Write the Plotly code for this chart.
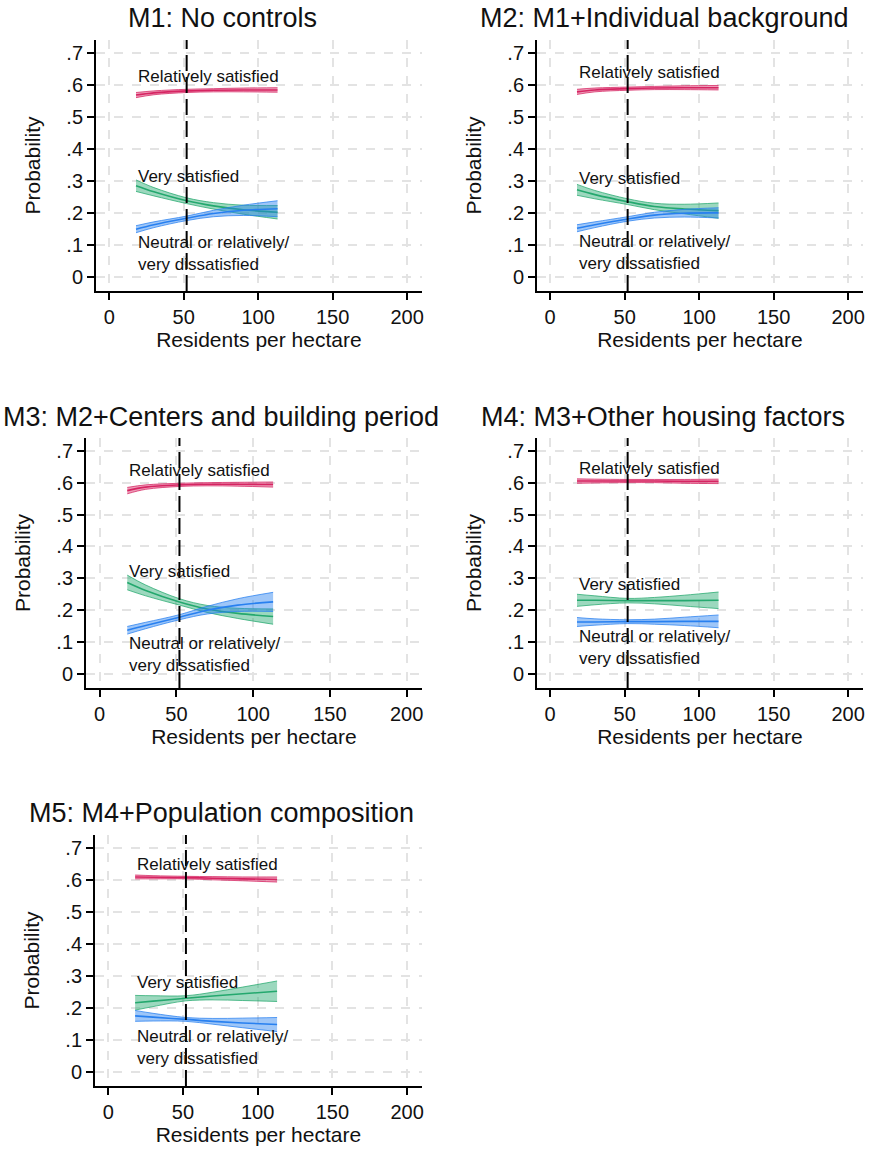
import plotly.graph_objects as go

# ---------------- data ----------------
X = [18, 30, 52, 70, 90, 113]          # residents per hectare
REF_X = 52                              # dashed reference line (mean density)

TITLES = ["M1: No controls", "M2: M1+Individual background",
          "M3: M2+Centers and building period", "M4: M3+Other housing factors",
          "M5: M4+Population composition"]

# Relatively satisfied
m1_rel = [0.568, 0.575, 0.581, 0.583, 0.584, 0.584]
m1_rel_hw = [0.008, 0.006, 0.005, 0.005, 0.006, 0.007]
m2_rel = [0.578, 0.584, 0.588, 0.590, 0.591, 0.591]
m2_rel_hw = [0.008, 0.006, 0.005, 0.005, 0.006, 0.007]
m3_rel = [0.575, 0.586, 0.593, 0.595, 0.595, 0.594]
m3_rel_hw = [0.010, 0.007, 0.005, 0.005, 0.006, 0.008]
m4_rel = [0.605, 0.605, 0.605, 0.605, 0.604, 0.604]
m4_rel_hw = [0.007, 0.006, 0.005, 0.005, 0.006, 0.007]
m5_rel = [0.609, 0.608, 0.607, 0.605, 0.603, 0.601]
m5_rel_hw = [0.006, 0.005, 0.004, 0.005, 0.006, 0.008]

# Very satisfied
m1_vs = [0.285, 0.266, 0.238, 0.222, 0.210, 0.202]
m1_vs_hw = [0.018, 0.013, 0.009, 0.010, 0.014, 0.021]
m2_vs = [0.272, 0.257, 0.235, 0.220, 0.212, 0.207]
m2_vs_hw = [0.017, 0.013, 0.009, 0.010, 0.015, 0.024]
m3_vs = [0.287, 0.262, 0.226, 0.204, 0.190, 0.180]
m3_vs_hw = [0.023, 0.017, 0.010, 0.011, 0.016, 0.024]
m4_vs = [0.231, 0.231, 0.230, 0.230, 0.230, 0.231]
m4_vs_hw = [0.019, 0.014, 0.007, 0.010, 0.017, 0.026]
m5_vs = [0.216, 0.221, 0.230, 0.237, 0.244, 0.252]
m5_vs_hw = [0.023, 0.017, 0.008, 0.012, 0.021, 0.032]

# Neutral or relatively/very dissatisfied
m1_neu = [0.149, 0.163, 0.183, 0.198, 0.208, 0.213]
m1_neu_hw = [0.011, 0.009, 0.007, 0.010, 0.016, 0.025]
m2_neu = [0.152, 0.163, 0.181, 0.193, 0.199, 0.200]
m2_neu_hw = [0.011, 0.009, 0.007, 0.009, 0.012, 0.016]
m3_neu = [0.137, 0.152, 0.178, 0.200, 0.216, 0.226]
m3_neu_hw = [0.012, 0.010, 0.008, 0.012, 0.020, 0.030]
m4_neu = [0.163, 0.163, 0.164, 0.164, 0.165, 0.165]
m4_neu_hw = [0.014, 0.010, 0.006, 0.008, 0.013, 0.020]
m5_neu = [0.175, 0.171, 0.164, 0.158, 0.153, 0.148]
m5_neu_hw = [0.017, 0.012, 0.006, 0.009, 0.015, 0.022]

# label y positions per model
LABEL_REL_Y = [0.626, 0.639, 0.638, 0.643, 0.648]
LABEL_VS_Y = [0.313, 0.308, 0.322, 0.280, 0.279]
LABEL_NEU_Y = [0.074, 0.077, 0.062, 0.082, 0.075]
LABEL_X = 18

X_TICKS = [0, 50, 100, 150, 200]
Y_TICKS = [0, 0.1, 0.2, 0.3, 0.4, 0.5, 0.6, 0.7]
Y_TICKTEXT = ["0", ".1", ".2", ".3", ".4", ".5", ".6", ".7"]

# ---------------- styling ----------------
FONT = "Liberation Sans, Arial, sans-serif"
COLORS = {
    "rel": (214, 36, 98),
    "vs": (36, 168, 110),
    "neu": (40, 128, 240),
}
W, H = 874, 1149
PANELS = [  # (x0,x1,y0,y1) in pixels
    (96, 423, 40, 291),
    (538, 865, 40, 291),
    (86, 423, 438, 688),
    (538, 865, 438, 688),
    (95, 423, 835, 1086),
]
TITLE_POS = [(223, 18), (666, 18), (222, 417), (665, 417), (222, 813)]

series = [
    [(m1_rel, m1_rel_hw, "rel"), (m1_vs, m1_vs_hw, "vs"), (m1_neu, m1_neu_hw, "neu")],
    [(m2_rel, m2_rel_hw, "rel"), (m2_vs, m2_vs_hw, "vs"), (m2_neu, m2_neu_hw, "neu")],
    [(m3_rel, m3_rel_hw, "rel"), (m3_vs, m3_vs_hw, "vs"), (m3_neu, m3_neu_hw, "neu")],
    [(m4_rel, m4_rel_hw, "rel"), (m4_vs, m4_vs_hw, "vs"), (m4_neu, m4_neu_hw, "neu")],
    [(m5_rel, m5_rel_hw, "rel"), (m5_vs, m5_vs_hw, "vs"), (m5_neu, m5_neu_hw, "neu")],
]

fig = go.Figure()
annotations = []
shapes = []
layout = dict(
    width=W, height=H, autosize=False,
    margin=dict(l=0, r=0, t=0, b=0),
    paper_bgcolor="white", plot_bgcolor="white",
    showlegend=False,
    font=dict(family=FONT, color="#111111"),
)

for i, (px, title) in enumerate(zip(PANELS, TITLES)):
    k = i + 1
    xa = "x" if k == 1 else f"x{k}"
    ya = "y" if k == 1 else f"y{k}"
    x0, x1, y0, y1 = px
    common = dict(
        showline=True, linecolor="black", linewidth=1.5,
        ticks="outside", ticklen=7, tickwidth=1.5, tickcolor="black",
        showgrid=True, gridcolor="#e3e3e3", gridwidth=1.5, griddash="dash",
        zeroline=False, tickfont=dict(size=20, family=FONT, color="#111111"),
    )
    layout["xaxis" if k == 1 else f"xaxis{k}"] = dict(
        common, domain=[x0 / W, x1 / W], anchor=ya, range=[-9, 210],
        tickvals=X_TICKS, ticktext=[str(v) for v in X_TICKS],
        title=dict(text="Residents per hectare", font=dict(size=21, family=FONT, color="#111111"), standoff=6),
    )
    layout["yaxis" if k == 1 else f"yaxis{k}"] = dict(
        common, domain=[1 - y1 / H, 1 - y0 / H], anchor=xa, range=[-0.044, 0.74],
        tickvals=Y_TICKS, ticktext=Y_TICKTEXT,
        title=dict(text="Probability", font=dict(size=21, family=FONT, color="#111111"), standoff=20),
    )

    for mean, hw, key in series[i]:
        r, g, b = COLORS[key]
        lo = [m - h for m, h in zip(mean, hw)]
        hi = [m + h for m, h in zip(mean, hw)]
        edge = f"rgba({r},{g},{b},0.75)"
        fig.add_trace(go.Scatter(x=X, y=lo, mode="lines", line=dict(color=edge, width=1, shape="spline"),
                                 xaxis=xa, yaxis=ya, hoverinfo="skip"))
        fig.add_trace(go.Scatter(x=X, y=hi, mode="lines", line=dict(color=edge, width=1, shape="spline"),
                                 fill="tonexty", fillcolor=f"rgba({r},{g},{b},0.45)",
                                 xaxis=xa, yaxis=ya, hoverinfo="skip"))
        fig.add_trace(go.Scatter(x=X, y=mean, mode="lines", line=dict(color=f"rgb({r},{g},{b})", width=1.6, shape="spline"),
                                 xaxis=xa, yaxis=ya))

    shapes.append(dict(type="line", xref=xa, yref=f"{ya} domain", x0=REF_X, x1=REF_X, y0=0, y1=1,
                       line=dict(color="black", width=2, dash="16px,6px"), layer="above"))

    tx, ty = TITLE_POS[i]
    annotations.append(dict(text=title, xref="paper", yref="paper", x=tx / W, y=1 - ty / H,
                            xanchor="center", yanchor="middle", showarrow=False,
                            font=dict(size=27, family=FONT, color="#111111")))
    lab = dict(xref=xa, yref=ya, xanchor="left", yanchor="middle", showarrow=False,
               font=dict(size=17, family=FONT, color="#111111"))
    annotations.append(dict(lab, text="Relatively satisfied", x=LABEL_X, y=LABEL_REL_Y[i]))
    annotations.append(dict(lab, text="Very satisfied", x=LABEL_X, y=LABEL_VS_Y[i]))
    annotations.append(dict(lab, text="Neutral or relatively/<br>very dissatisfied", x=LABEL_X,
                            y=LABEL_NEU_Y[i], align="left"))

layout["annotations"] = annotations
layout["shapes"] = shapes
fig.update_layout(**layout)
fig.write_html("out.html", config={"displayModeBar": False},
               post_script="document.body.style.margin='0px';document.body.style.overflow='hidden';")
